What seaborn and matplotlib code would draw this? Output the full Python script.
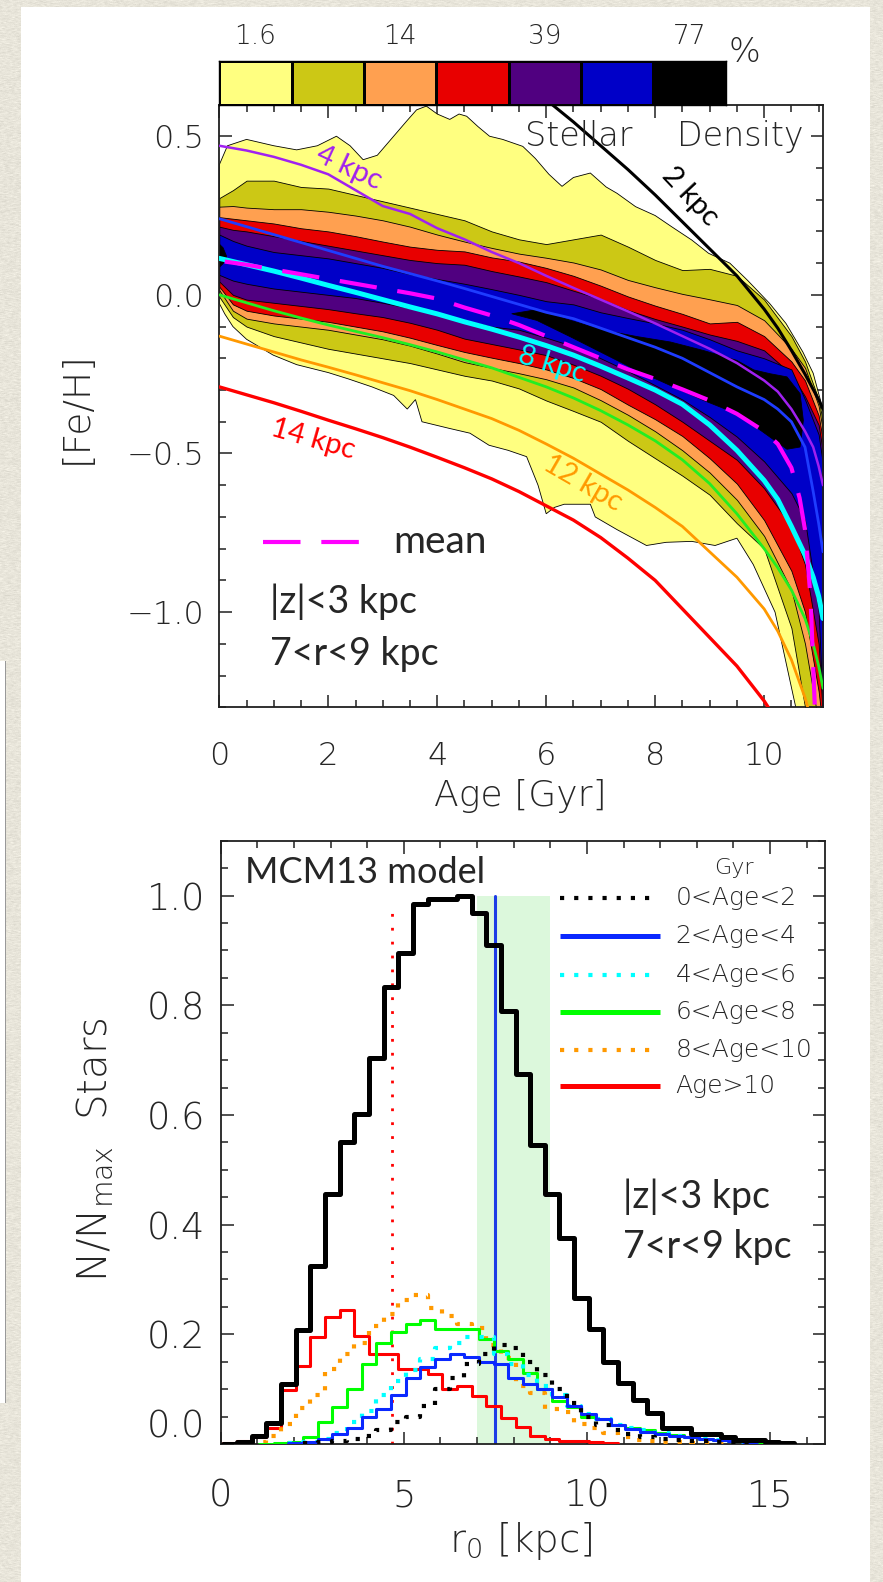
import numpy as np
import pandas as pd
import matplotlib
matplotlib.use("Agg")
import matplotlib.pyplot as plt
from matplotlib.colors import ListedColormap
from matplotlib.ticker import MultipleLocator, FixedLocator, FixedFormatter
import seaborn as sns

sns.set_theme(style="white")
plt.rcParams["font.family"] = ["DejaVu Sans"]
plt.rcParams["font.weight"] = 200
plt.rcParams["mathtext.fontset"] = "dejavusans"
HUMAN = ["Lato", "DejaVu Sans"]

W, H, DPI = 883, 1582, 100

# ---------------- colour bar of enclosed-density levels ----------------
level_colors = ["#FFFF80", "#CCC815", "#FFA050", "#E80000", "#500080", "#0000C8", "#000000"]
level_labels = ["1.6", "14", "39", "77"]

# ---------------- top panel: density bands in the age-[Fe/H] plane ----------------
# outermost (1.6 %) contour, traced separately because of its ragged edge
outer_top_age = [0, 0.15, 0.5, 1.0, 1.42, 1.8, 2.15, 2.4, 2.64, 2.9, 3.2, 3.45, 3.62, 3.8, 4.0,
                 4.23, 4.4, 4.54, 4.75, 4.96, 5.2, 5.57, 5.8, 6.05, 6.29, 6.5, 6.81, 7.1, 7.3,
                 7.64, 8.0, 8.3, 8.67, 8.98, 9.37, 9.7, 10.1, 10.4, 10.71, 10.9, 11.03, 11.1]
outer_top_feh = [0.41, 0.47, 0.49, 0.47, 0.457, 0.47, 0.50, 0.47, 0.426, 0.44, 0.50, 0.55, 0.583,
                 0.595, 0.57, 0.553, 0.57, 0.563, 0.53, 0.50, 0.49, 0.468, 0.43, 0.38, 0.342, 0.37,
                 0.384, 0.34, 0.32, 0.278, 0.25, 0.215, 0.173, 0.131, 0.10, 0.045, -0.027, -0.09,
                 -0.18, -0.247, -0.33, -0.38]
outer_bot_age = [0, 0.1, 0.25, 0.5, 0.99, 1.42, 2.0, 2.37, 2.8, 3.2, 3.45, 3.6, 3.72, 4.2, 4.6,
                 4.95, 5.3, 5.64, 5.85, 6.0, 6.15, 6.33, 6.6, 6.81, 6.9, 7.3, 7.84, 8.2, 8.67, 9.1,
                 9.5, 9.8, 10.2, 10.58, 11.1]
outer_bot_feh = [-0.027, -0.06, -0.10, -0.14, -0.19, -0.22, -0.245, -0.265, -0.29, -0.317, -0.36,
                 -0.33, -0.40, -0.42, -0.436, -0.474, -0.49, -0.51, -0.60, -0.69, -0.67, -0.66,
                 -0.66, -0.66, -0.70, -0.74, -0.79, -0.78, -0.777, -0.79, -0.767, -0.85, -1.0,
                 -1.3, -1.4]

age_grid = [0, 0.25, 0.5, 1, 1.5, 2, 2.5, 3, 3.5, 4, 4.5, 5, 5.5, 6, 6.5, 7, 7.5, 8,
            8.5, 9, 9.5, 10, 10.5, 10.75, 11.0, 11.1]
olive_hi = [0.305, 0.33, 0.36, 0.36, 0.34, 0.335, 0.315, 0.295, 0.275, 0.255, 0.235, 0.20, 0.175,
            0.16, 0.175, 0.19, 0.152, 0.11, 0.078, 0.082, 0.06, -0.015, -0.13, -0.21, -0.33, -0.42]
orange_hi = [0.278, 0.28, 0.275, 0.27, 0.27, 0.262, 0.25, 0.235, 0.215, 0.19, 0.168, 0.148, 0.13,
             0.117, 0.102, 0.08, 0.047, 0.024, 0.003, -0.014, -0.032, -0.08, -0.17, -0.23, -0.35, -0.45]
red_hi = [0.245, 0.24, 0.235, 0.225, 0.21, 0.20, 0.185, 0.168, 0.152, 0.142, 0.137, 0.118, 0.105,
          0.085, 0.06, 0.029, -0.005, -0.034, -0.06, -0.09, -0.085, -0.13, -0.21, -0.27, -0.38, -0.48]
purple_hi = [0.215, 0.205, 0.20, 0.185, 0.17, 0.155, 0.14, 0.125, 0.11, 0.10, 0.095, 0.075, 0.058,
             0.04, 0.013, -0.013, -0.048, -0.076, -0.10, -0.125, -0.145, -0.175, -0.25, -0.32, -0.41, -0.52]
blue_hi = [0.19, 0.17, 0.155, 0.135, 0.125, 0.115, 0.10, 0.085, 0.065, 0.05, 0.035, 0.018, 0.0,
           -0.02, -0.03, -0.055, -0.073, -0.09, -0.11, -0.14, -0.175, -0.20, -0.235, -0.33, -0.44, -0.56]
blue_lo = [0.063, 0.045, 0.035, 0.02, 0.01, 0.0, -0.01, -0.025, -0.042, -0.06, -0.08, -0.10, -0.11,
           -0.135, -0.162, -0.20, -0.24, -0.285, -0.33, -0.385, -0.447, -0.525, -0.625, -0.71, -1.0, -1.4]
purple_lo = [0.042, 0.0, -0.015, -0.025, -0.035, -0.045, -0.058, -0.07, -0.088, -0.11, -0.138, -0.155,
             -0.172, -0.19, -0.22, -0.255, -0.296, -0.345, -0.40, -0.46, -0.52, -0.61, -0.73, -0.85, -1.1, -1.4]
red_lo = [0.026, -0.03, -0.05, -0.065, -0.075, -0.085, -0.10, -0.115, -0.135, -0.158, -0.18, -0.198,
          -0.215, -0.235, -0.262, -0.297, -0.346, -0.392, -0.445, -0.515, -0.595, -0.71, -0.87, -1.0, -1.25, -1.4]
orange_lo = [0.015, -0.05, -0.075, -0.09, -0.10, -0.11, -0.125, -0.14, -0.16, -0.185, -0.212, -0.23,
             -0.247, -0.266, -0.292, -0.332, -0.378, -0.43, -0.49, -0.56, -0.646, -0.76, -0.93, -1.1, -1.35, -1.4]
olive_lo = [-0.006, -0.07, -0.10, -0.13, -0.15, -0.17, -0.185, -0.20, -0.215, -0.235, -0.255, -0.27,
            -0.295, -0.333, -0.366, -0.40, -0.46, -0.515, -0.57, -0.63, -0.72, -0.80, -1.05, -1.3, -1.4, -1.4]

core_age = [5.36, 5.82, 6.44, 7.05, 7.66, 8.27, 8.88, 9.49, 9.8, 10.1, 10.41, 10.65, 10.71]
core_hi = [-0.058, -0.045, -0.079, -0.11, -0.13, -0.147, -0.174, -0.205, -0.235, -0.247, -0.257, -0.31, -0.394]
core_lo = [-0.058, -0.079, -0.131, -0.184, -0.237, -0.284, -0.331, -0.373, -0.41, -0.447, -0.485, -0.478, -0.394]
edge_core_age = [0.0, 0.06, 0.12]
edge_core_hi = [0.16, 0.15, 0.125]
edge_core_lo = [0.09, 0.10, 0.12]

# chemical-evolution tracks for different birth radii
age_track = [0, 0.5, 1, 1.5, 2, 2.5, 3, 3.5, 4, 4.5, 5, 5.5, 6, 6.5, 7, 7.5, 8, 8.5, 9, 9.5,
             10, 10.25, 10.5, 10.75, 10.9, 11.0, 11.08]
feh_4kpc = [0.47, 0.455, 0.435, 0.41, 0.38, 0.33, 0.28, 0.255, 0.21, 0.175, 0.135, 0.10, 0.06, 0.022,
            -0.015, -0.052, -0.09, -0.13, -0.17, -0.215, -0.27, -0.305, -0.36, -0.43, -0.48, -0.54, -0.60]
feh_6kpc = [0.24, 0.215, 0.19, 0.165, 0.14, 0.115, 0.09, 0.067, 0.044, 0.02, -0.005, -0.03, -0.055,
            -0.075, -0.105, -0.135, -0.165, -0.20, -0.245, -0.29, -0.33, -0.36, -0.40, -0.48, -0.62, -0.72, -0.81]
feh_8kpc = [0.115, 0.095, 0.075, 0.053, 0.03, 0.008, -0.015, -0.038, -0.06, -0.085, -0.108, -0.133,
            -0.16, -0.19, -0.225, -0.262, -0.30, -0.345, -0.41, -0.49, -0.585, -0.645, -0.73, -0.82, -0.89, -0.95, -1.02]
feh_10kpc = [0.0, -0.025, -0.05, -0.073, -0.095, -0.115, -0.135, -0.157, -0.18, -0.205, -0.23, -0.26,
             -0.29, -0.325, -0.365, -0.41, -0.46, -0.52, -0.595, -0.69, -0.80, -0.86, -0.93, -1.02, -1.10, -1.17, -1.24]
age_2kpc = [6.0, 6.5, 7, 7.5, 8, 8.5, 9, 9.5, 10, 10.25, 10.5, 10.75, 11.0, 11.08]
feh_2kpc = [0.615, 0.545, 0.47, 0.395, 0.315, 0.23, 0.145, 0.06, -0.045, -0.105, -0.175, -0.25, -0.33, -0.36]
age_12kpc = [0, 0.5, 1, 1.5, 2, 2.5, 3, 3.5, 4, 4.5, 5, 5.5, 6, 6.5, 7, 7.5, 8, 8.5, 9, 9.5, 10,
             10.25, 10.5, 10.75, 10.85]
feh_12kpc = [-0.13, -0.155, -0.18, -0.205, -0.228, -0.252, -0.277, -0.302, -0.33, -0.36, -0.39, -0.427,
             -0.47, -0.515, -0.565, -0.615, -0.67, -0.73, -0.81, -0.89, -0.99, -1.06, -1.15, -1.27, -1.33]
age_14kpc = [0, 0.5, 1, 1.5, 2, 2.5, 3, 3.5, 4, 4.5, 5, 5.5, 6, 6.5, 7, 7.5, 8, 8.5, 9, 9.5, 10, 10.15]
feh_14kpc = [-0.29, -0.315, -0.34, -0.367, -0.395, -0.422, -0.45, -0.48, -0.512, -0.545, -0.58, -0.62,
             -0.665, -0.71, -0.765, -0.83, -0.90, -0.99, -1.08, -1.17, -1.28, -1.32]
age_mean = [0.1, 0.5, 1, 1.5, 2, 2.5, 3, 3.5, 4, 4.5, 5, 5.5, 6, 6.5, 7, 7.5, 8, 8.5, 9, 9.5, 10,
            10.25, 10.5, 10.65, 10.75, 10.85, 10.93]
feh_mean = [0.105, 0.095, 0.08, 0.065, 0.05, 0.035, 0.02, 0.005, -0.012, -0.04, -0.065, -0.095, -0.13,
            -0.165, -0.20, -0.235, -0.265, -0.298, -0.333, -0.375, -0.43, -0.47, -0.545, -0.64, -0.74,
            -0.95, -1.30]

# ---------------- bottom panel: birth-radius distributions ----------------
BIN = 0.4
tot_start, tot_vals = 0.05, [0.0, 0.004, 0.015, 0.039, 0.109, 0.207, 0.324, 0.455, 0.551, 0.602, 0.704,
                             0.834, 0.895, 0.984, 0.994, 0.994, 1.0, 0.968, 0.909, 0.79, 0.674, 0.545,
                             0.455, 0.375, 0.266, 0.209, 0.15, 0.111, 0.08, 0.056, 0.03, 0.029, 0.019,
                             0.018, 0.013, 0.008, 0.008, 0.004, 0.002]
age0_start, age0_vals = 2.25, [0.002, 0.004, 0.006, 0.01, 0.015, 0.025, 0.04, 0.05, 0.07, 0.10, 0.12,
                               0.145, 0.165, 0.18, 0.175, 0.15, 0.125, 0.10, 0.075, 0.05, 0.035, 0.025,
                               0.018, 0.012, 0.01, 0.008, 0.006, 0.005, 0.004, 0.003, 0.002]
age2_start, age2_vals = 1.85, [0.002, 0.004, 0.01, 0.018, 0.03, 0.05, 0.064, 0.09, 0.121, 0.14, 0.155,
                               0.164, 0.158, 0.15, 0.145, 0.12, 0.11, 0.10, 0.085, 0.07, 0.055, 0.045,
                               0.035, 0.028, 0.022, 0.018, 0.015, 0.012, 0.01, 0.008, 0.006, 0.004]
age4_start, age4_vals = 1.85, [0.002, 0.004, 0.01, 0.02, 0.04, 0.06, 0.09, 0.115, 0.135, 0.155, 0.175,
                               0.185, 0.195, 0.195, 0.165, 0.145, 0.125, 0.105, 0.09, 0.07, 0.055, 0.045,
                               0.035, 0.03, 0.025, 0.02, 0.015, 0.012, 0.01, 0.007, 0.005, 0.003]
age6_start, age6_vals = 1.05, [0.0, 0.002, 0.004, 0.012, 0.041, 0.067, 0.10, 0.145, 0.185, 0.205, 0.219,
                               0.226, 0.209, 0.209, 0.209, 0.191, 0.17, 0.155, 0.13, 0.10, 0.078, 0.068,
                               0.05, 0.045, 0.035, 0.03, 0.025, 0.02, 0.016, 0.013, 0.01, 0.008, 0.006,
                               0.004, 0.003, 0.002]
age8_start, age8_vals = 0.45, [0.0, 0.003, 0.014, 0.036, 0.065, 0.09, 0.137, 0.165, 0.185, 0.215, 0.237,
                               0.262, 0.271, 0.248, 0.233, 0.219, 0.212, 0.18, 0.157, 0.106, 0.093, 0.064,
                               0.058, 0.036, 0.03, 0.02, 0.012, 0.008, 0.005, 0.004, 0.003, 0.002, 0.002, 0.001]
age10_start, age10_vals = 0.05, [0.002, 0.005, 0.012, 0.03, 0.098, 0.142, 0.195, 0.231, 0.244, 0.197, 0.164,
                                 0.164, 0.136, 0.136, 0.127, 0.10, 0.106, 0.088, 0.07, 0.048, 0.031, 0.015,
                                 0.01, 0.006, 0.005, 0.003, 0.002]
age_bins = ["0<Age<2", "2<Age<4", "4<Age<6", "6<Age<8", "8<Age<10", "Age>10"]
r_solar_band = (7.0, 9.0)
r_bar_end = 4.68
r_sun = 7.5


def fx(px):
    return px / W


def fy(py):
    return 1 - py / H


fig = plt.figure(figsize=(W / DPI, H / DPI), dpi=DPI)

# textured paper with a white sheet on top
rng = np.random.default_rng(3)
grain = rng.normal(0, 5, size=(H, W))
grain = (grain + np.roll(grain, 1, axis=1) + np.roll(grain, 2, axis=1)) / 2.0
bg = np.empty((H, W, 3))
bg[..., 0] = 232 + grain
bg[..., 1] = 229 + grain
bg[..., 2] = 218 + grain
bg = np.clip(bg, 0, 255) / 255.0
bg[7:, 21:870] = 1.0
bg[661:1403, 0:5] = 1.0
bg[661:1403, 5:6] = 0.6
fig.figimage(bg, xo=0, yo=0, origin="upper", zorder=-10)
fig.patch.set_alpha(0)

# ================= top panel =================
ax1 = fig.add_axes([fx(219.3), fy(707.3), (823.0 - 219.3) / W, (707.3 - 104.5) / H])
ax1.set_facecolor("white")
ax1.fill(outer_top_age + outer_bot_age[::-1], outer_top_feh + outer_bot_feh[::-1],
         facecolor=level_colors[0], edgecolor="black", linewidth=0.6, zorder=1)
bands = [(olive_lo, olive_hi), (orange_lo, orange_hi), (red_lo, red_hi),
         (purple_lo, purple_hi), (blue_lo, blue_hi)]
for (lo, hi), col in zip(bands, level_colors[1:6]):
    ax1.fill_between(age_grid, lo, hi, facecolor=col, edgecolor="black", linewidth=0.6, zorder=1)
for a, lo, hi in [(core_age, core_lo, core_hi), (edge_core_age, edge_core_lo, edge_core_hi)]:
    ax1.fill_between(a, lo, hi, facecolor="black", edgecolor="black", linewidth=0.6, zorder=1)

tracks = [
    (age_14kpc, feh_14kpc, "#FF0000", 2.4),
    (age_12kpc, feh_12kpc, "#FF9900", 2.0),
    (age_track, feh_10kpc, "#22EE22", 2.0),
    (age_track, feh_6kpc, "#1E3CFF", 2.0),
    (age_track, feh_4kpc, "#A020F0", 1.8),
    (age_2kpc, feh_2kpc, "#000000", 2.2),
]
for a, f, col, lw in tracks:
    sns.lineplot(x=a, y=f, color=col, linewidth=lw, ax=ax1, sort=False, estimator=None, zorder=3)
sns.lineplot(x=age_track, y=feh_8kpc, color="#00FFFF", linewidth=3.6, ax=ax1, sort=False,
             estimator=None, zorder=4)
ax1.plot(age_mean, feh_mean, color="#FF00FF", linewidth=3.0, dashes=(9, 5), zorder=5)

ax1.set_xlim(0, 11.08)
ax1.set_ylim(-1.3, 0.6)
ax1.xaxis.set_major_locator(FixedLocator([0, 2, 4, 6, 8, 10]))
ax1.xaxis.set_major_formatter(FixedFormatter(["0", "2", "4", "6", "8", "10"]))
ax1.xaxis.set_minor_locator(MultipleLocator(0.5))
ax1.yaxis.set_major_locator(FixedLocator([-1.0, -0.5, 0.0, 0.5]))
ax1.yaxis.set_major_formatter(FixedFormatter(["\u22121.0", "\u22120.5", "0.0", "0.5"]))
ax1.yaxis.set_minor_locator(MultipleLocator(0.1))

# curve annotations
lab_kw = dict(family=HUMAN, fontweight="normal", fontsize=21, ha="center", va="center", zorder=6)
ax1.text(2.375, 0.399, "4 kpc", color="#A020F0", rotation=-25, **lab_kw)
ax1.text(8.64, 0.309, "2 kpc", color="black", rotation=-47, **lab_kw)
ax1.text(6.10, -0.221, "8 kpc", color="#00FFFF", rotation=-17, **lab_kw)
ax1.text(1.725, -0.457, "14 kpc", color="#FF0000", rotation=-16, **lab_kw)
ax1.text(6.67, -0.594, "12 kpc", color="#FF9900", rotation=-30, **lab_kw)
ax1.text((579 - 219.3) / 54.49, 0.469, "Stellar", fontsize=24, ha="center", va="baseline")
ax1.text((740 - 219.3) / 54.49, 0.469, "Density", fontsize=24, ha="center", va="baseline")

ax1.plot([0.806, 2.64], [-0.779, -0.779], color="#FF00FF", linewidth=3.0, dashes=(9, 5),
         solid_capstyle="butt", dash_capstyle="butt")
txt_kw = dict(family=HUMAN, fontweight="normal", ha="left", va="baseline")
ax1.text(3.2, -0.8135, "mean", fontsize=28, **txt_kw)
ax1.text(0.935, -1.003, "|z|<3 kpc", fontsize=27, **txt_kw)
ax1.text(0.935, -1.166, "7<r<9 kpc", fontsize=27, **txt_kw)

fig.text(fx(76), fy(408), "[Fe/H]", rotation=90, ha="center", va="center", fontsize=27)
fig.text(fx(520), fy(796), "Age [Gyr]", ha="center", va="center", fontsize=26)

# colour bar
cax = fig.add_axes([fx(219.3), fy(104.5), (725.5 - 219.3) / W, (104.5 - 61.0) / H])
cax.pcolormesh(np.arange(8), [0, 1], np.arange(7).reshape(1, 7), cmap=ListedColormap(level_colors),
               edgecolors="black", linewidth=1.0, shading="flat")
cax.set_xlim(0, 7)
cax.set_ylim(0, 1)
cax.set_xticks([])
cax.set_yticks([])
for s in cax.spines.values():
    s.set_linewidth(1.0)
    s.set_color("black")
box_w = (725.5 - 219.3) / 7
for i, lab in enumerate(level_labels):
    fig.text(fx(219.3 + box_w * (2 * i + 0.5)), fy(36), lab, ha="center", va="center", fontsize=19)
fig.text(fx(744), fy(53), "%", ha="center", va="center", fontsize=24)

# ================= bottom panel =================
ax2 = fig.add_axes([fx(220.7), fy(1444.0), (825.0 - 220.7) / W, (1444.0 - 840.7) / H])
ax2.set_facecolor("white")
ax2.fill_between(list(r_solar_band), [0, 0], [1.0, 1.0], color="#DCF8DC", linewidth=0, zorder=0)
ax2.plot([r_sun, r_sun], [0, 1.0], color="#1E3CE6", linewidth=2.2, zorder=2)
ax2.plot([r_bar_end, r_bar_end], [0, 0.982], color="#FF0000", linewidth=2.0, dashes=(1, 4),
         zorder=2)

DOT = (1, 2.4)
hist_series = [
    (age10_start, age10_vals, "#FF0000", 2.2, None),
    (age8_start, age8_vals, "#FF9900", 3.0, DOT),
    (age6_start, age6_vals, "#00FF00", 2.2, None),
    (age4_start, age4_vals, "#00FFFF", 3.0, DOT),
    (age2_start, age2_vals, "#0A28FF", 2.2, None),
    (age0_start, age0_vals, "#000000", 3.0, DOT),
    (tot_start, tot_vals, "#000000", 3.6, None),
]
for start, vals, col, lw, dash in hist_series:
    n = len(vals)
    centers = start + BIN * (np.arange(n) + 0.5)
    df = pd.DataFrame({"r0": centers, "w": vals})
    kw = dict(color=col, linewidth=lw)
    if dash is not None:
        kw["dashes"] = dash
    sns.histplot(data=df, x="r0", weights="w", binwidth=BIN, binrange=(start, start + BIN * n),
                 element="step", fill=False, ax=ax2, zorder=3, **kw)

ax2.set_xlim(0, 16.5)
ax2.set_ylim(0, 1.1)
ax2.xaxis.set_major_locator(FixedLocator([0, 5, 10, 15]))
ax2.xaxis.set_major_formatter(FixedFormatter(["0", "5", "10", "15"]))
ax2.xaxis.set_minor_locator(MultipleLocator(1))
ax2.yaxis.set_major_locator(FixedLocator([0.0, 0.2, 0.4, 0.6, 0.8, 1.0]))
ax2.yaxis.set_major_formatter(FixedFormatter(["0.0", "0.2", "0.4", "0.6", "0.8", "1.0"]))
ax2.yaxis.set_minor_locator(MultipleLocator(0.05))
ax2.set_xlabel("")
ax2.set_ylabel("")

ax2.text(0.664, 1.0228, "MCM13 model", fontsize=26, **txt_kw)
ax2.text(10.99, 0.4297, "|z|<3 kpc", fontsize=27, **txt_kw)
ax2.text(10.99, 0.3386, "7<r<9 kpc", fontsize=27, **txt_kw)

# legend drawn by hand
ax2.text(14.02, 1.05, "Gyr", fontsize=16, ha="center", va="center")
leg_y = [0.9955, 0.9255, 0.8557, 0.787, 0.719, 0.652]
leg_style = [("#000000", DOT), ("#0A28FF", None), ("#00FFFF", DOT), ("#00FF00", None),
             ("#FF9900", DOT), ("#FF0000", None)]
for yy, lab, (col, dash) in zip(leg_y, age_bins, leg_style):
    if dash is None:
        ax2.plot([9.27, 12.0], [yy, yy], color=col, linewidth=3.6, solid_capstyle="butt")
    else:
        ax2.plot([9.27, 11.72], [yy, yy], color=col, linewidth=3.0, dashes=dash,
                 dash_capstyle="butt")
    ax2.text(12.42, yy, lab, fontsize=18, ha="left", va="center")

fig.text(fx(95), fy(1150), r"N/N$_{\rm max}$  Stars", rotation=90, ha="center", va="center",
         fontsize=29)
fig.text(fx(521), fy(1541), r"r$_0$ [kpc]", ha="center", va="center", fontsize=28)

# axis cosmetics shared by both panels
for ax, fs in [(ax1, 23), (ax2, 26.5)]:
    for s in ax.spines.values():
        s.set_linewidth(1.3)
        s.set_color("#202020")
        s.set_visible(True)
    ax.tick_params(which="both", direction="in", top=True, right=True, bottom=True, left=True,
                   color="#202020", width=1.1)
    ax.tick_params(which="major", length=9)
    ax.tick_params(which="minor", length=5)
    ax.tick_params(axis="y", which="major", pad=11, labelsize=fs)
    ax.tick_params(axis="x", which="major", pad=24, labelsize=fs)
    ax.grid(False)

ax2.yaxis.get_major_ticks()[0].label1.set_verticalalignment("bottom")

fig.savefig("out.png", dpi=DPI)
